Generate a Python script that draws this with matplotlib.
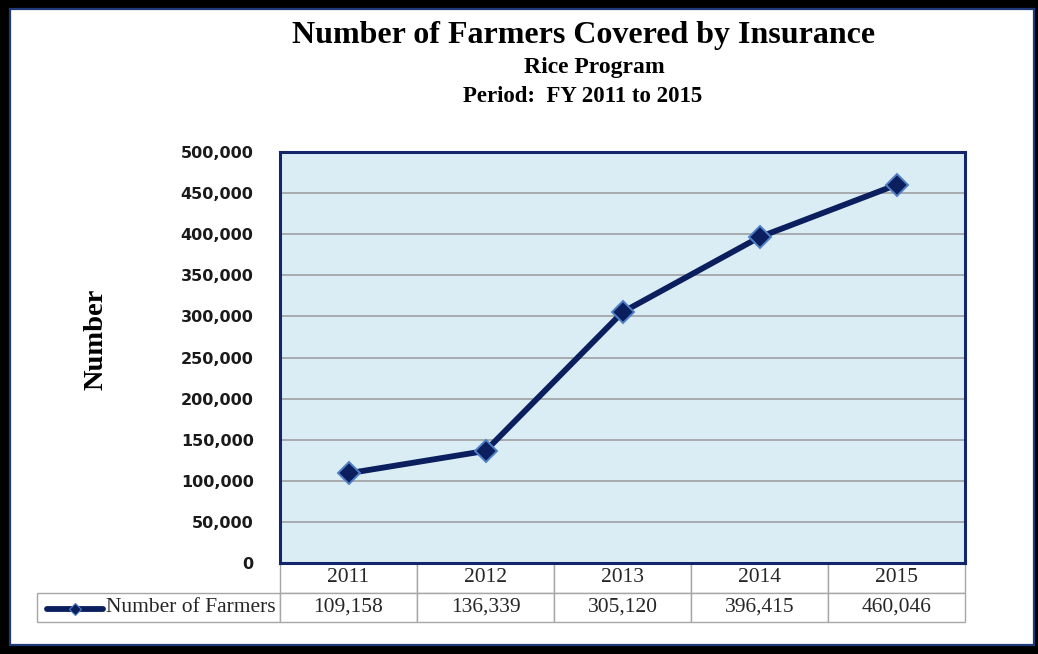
import matplotlib.pyplot as plt
from matplotlib.patches import Rectangle
from matplotlib.ticker import FuncFormatter

years = ['2011', '2012', '2013', '2014', '2015']
farmers = [109158, 136339, 305120, 396415, 460046]
series_name = 'Number of Farmers'
yticks = [0, 50000, 100000, 150000, 200000, 250000, 300000, 350000, 400000, 450000, 500000]

W, H = 1038, 654
navy = '#0B1F5E'
serif = ['Liberation Serif', 'DejaVu Serif']

fig = plt.figure(figsize=(W / 100, H / 100), dpi=100, facecolor='black')

# white page with thin navy inner edge inside the black frame
fig.patches.append(Rectangle((10 / W, 1 - 645 / H), 1024 / W, 636 / H,
                             transform=fig.transFigure, facecolor='white',
                             edgecolor='#1F3A7A', linewidth=1.6, zorder=-10))

ax = fig.add_axes([280 / W, 1 - 563 / H, 685 / W, 411 / H])
ax.set_facecolor('#DBEDF4')
x = list(range(len(years)))
ax.plot(x, farmers, color=navy, lw=4.2, marker='D', ms=11,
        markerfacecolor=navy, markeredgecolor='#4F7FC4', mew=1.4,
        solid_joinstyle='round', zorder=3)

ax.set_xlim(-0.5, len(years) - 0.5)
ax.set_ylim(0, 500000)
ax.set_yticks(yticks)
ax.yaxis.set_major_formatter(FuncFormatter(lambda v, p: f'{int(v):,}'))
ax.set_xticks([])
ax.tick_params(axis='y', length=0, pad=19, labelsize=11.5, labelcolor='#1A1A1A')
for lab in ax.get_yticklabels():
    lab.set_fontweight('bold')
    lab.set_family('DejaVu Sans')
ax.grid(axis='y', color='#A0A0A0', lw=1.2)
for s in ax.spines.values():
    s.set_color('#14266B')
    s.set_linewidth(2.2)

fig.text(96 / W, 1 - 339 / H, 'Number', family=serif, fontweight='bold',
         fontsize=20.5, rotation=90, ha='center', va='center')

# data table under the plot (bbox refers to the year columns only)
col_w = 1 / len(years)
tbl = ax.table(cellText=[[f'{v:,}' for v in farmers]],
               rowLabels=[series_name], colLabels=years,
               cellLoc='center', rowLoc='right',
               colWidths=[col_w] * len(years),
               bbox=[0, -59 / 411, 1, 59 / 411])
tbl.auto_set_font_size(False)
# fixed width for the label column instead of the automatic one
tbl._autoColumns = [c for c in tbl._autoColumns if c != -1]
tbl[1, -1].set_width(243 / 137 * col_w)
for (r, c), cell in tbl.get_celld().items():
    cell.set_edgecolor('#A6A6A6')
    cell.set_linewidth(1.0)
    cell.get_text().set_fontfamily(serif)
    cell.get_text().set_fontsize(15.5)
    cell.get_text().set_color('#262626')
    if c == -1:
        cell.PAD = 0.02

# legend key in the row label cell
ky = -46 / 411
ax.plot([-233 / 685, -177 / 685], [ky, ky], color=navy, lw=4.2,
        solid_capstyle='round', clip_on=False, transform=ax.transAxes)
ax.plot([-205 / 685], [ky], marker='D', ms=6, color=navy,
        markeredgecolor='#4F7FC4', mew=0.8, clip_on=False, transform=ax.transAxes)

fig.text(584 / W, 1 - 35 / H, 'Number of Farmers Covered by Insurance',
         family=serif, fontweight='bold', fontsize=23, ha='center', va='center')
fig.text(594 / W, 1 - 68 / H, 'Rice Program',
         family=serif, fontweight='bold', fontsize=17, ha='center', va='center')
fig.text(583 / W, 1 - 97 / H, 'Period:  FY 2011 to 2015',
         family=serif, fontweight='bold', fontsize=16.5, ha='center', va='center')

fig.savefig('out.png', dpi=100, facecolor=fig.get_facecolor())
